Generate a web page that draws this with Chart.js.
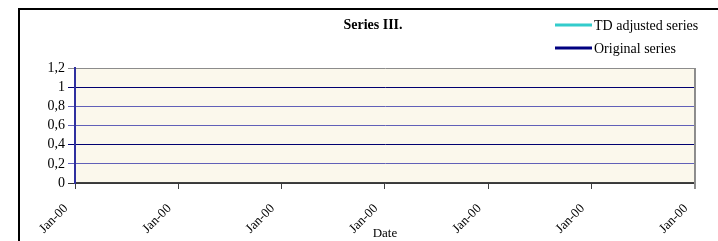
<!DOCTYPE html>
<html>
<head>
<meta charset="utf-8">
<script src="https://cdn.jsdelivr.net/npm/chart.js@4.4.1/dist/chart.umd.min.js"></script>
<style>
    html, body { margin: 0; padding: 0; background: #fff; }
    #wrap { width: 718px; height: 241px; }
</style>
</head>
<body>
<div id="wrap"><canvas id="seriesChart" width="718" height="241"></canvas></div>
<script>
const chartTitle = 'Series III.';
const dates = ['Jan-00', 'Jan-00', 'Jan-00', 'Jan-00', 'Jan-00', 'Jan-00', 'Jan-00'];
const tdAdjusted = [null, null, null, null, null, null, null];
const original = [null, null, null, null, null, null, null];
const yTicks = [0, 0.2, 0.4, 0.6, 0.8, 1, 1.2];

const serif = '"Liberation Serif", "Times New Roman", serif';

// frame, plot background, title and legend
const decorPlugin = {
    id: 'decor',
    beforeDraw(chart) {
        const { ctx, chartArea: a } = chart;
        ctx.save();
        ctx.fillStyle = '#fbf8ec';
        ctx.fillRect(a.left, a.top, a.right - a.left, a.bottom - a.top);
        ctx.restore();
    },
    afterDraw(chart) {
        const { ctx, chartArea: a } = chart;
        ctx.save();
        // outer frame
        ctx.strokeStyle = '#000';
        ctx.lineWidth = 2;
        ctx.beginPath();
        ctx.moveTo(19, 241);
        ctx.lineTo(19, 9);
        ctx.lineTo(718, 9);
        ctx.stroke();

        // plot area border (right side)
        ctx.strokeStyle = '#8c8c8c';
        ctx.lineWidth = 2;
        ctx.beginPath();
        ctx.moveTo(a.right, a.top);
        ctx.lineTo(a.right, a.bottom + 6);
        ctx.stroke();

        // title
        ctx.fillStyle = '#000';
        ctx.font = 'bold 14px ' + serif;
        ctx.textAlign = 'center';
        ctx.textBaseline = 'middle';
        ctx.fillText(chartTitle, 373, 25);

        // legend
        ctx.font = '14px ' + serif;
        ctx.textAlign = 'left';
        chart.data.datasets.forEach((ds, i) => {
            const y = 25 + i * 23;
            ctx.strokeStyle = ds.borderColor;
            ctx.lineWidth = 3;
            ctx.beginPath();
            ctx.moveTo(555, y);
            ctx.lineTo(592, y);
            ctx.stroke();
            ctx.fillStyle = '#000';
            ctx.fillText(ds.label, 594, y + 1);
        });
        ctx.restore();
    }
};

const gridColors = ['#303030', '#6060b8', '#000070', '#6060b8', '#6060b8', '#000070', '#8c8c8c'];

new Chart(document.getElementById('seriesChart'), {
    type: 'line',
    data: {
        labels: dates,
        datasets: [
            { label: 'TD adjusted series', data: tdAdjusted, borderColor: '#33cccc', borderWidth: 2, pointRadius: 0 },
            { label: 'Original series', data: original, borderColor: '#000080', borderWidth: 2, pointRadius: 0 }
        ]
    },
    options: {
        responsive: false,
        animation: false,
        layout: { padding: { top: 68, right: 22, left: 0, bottom: 0 } },
        plugins: {
            legend: { display: false },
            title: { display: false },
            tooltip: { enabled: false }
        },
        scales: {
            x: {
                offset: false,
                grid: { drawOnChartArea: false, drawTicks: true, tickLength: 6, color: '#404040' },
                border: { color: '#404040', width: 1.5 },
                ticks: {
                    maxRotation: 45, minRotation: 45, autoSkip: false,
                    color: '#000', font: { family: serif, size: 13 },
                    padding: 12, labelOffset: -9
                },
                title: {
                    display: true, text: 'Date', color: '#000',
                    font: { family: serif, size: 13 }, padding: { top: 0, bottom: 0 }
                },
                afterFit: s => { s.height = 58; }
            },
            y: {
                min: 0, max: 1.2,
                afterBuildTicks: s => { s.ticks = yTicks.map(v => ({ value: v })); },
                grid: {
                    color: c => gridColors[c.index] || '#6060b8',
                    lineWidth: 1,
                    tickLength: 7
                },
                border: { color: '#3030a0', width: 2 },
                ticks: {
                    autoSkip: false,
                    color: '#000', font: { family: serif, size: 14, lineHeight: 1 }, padding: 3,
                    callback: v => Number(v.toFixed(1)).toString().replace('.', ',')
                },
                afterFit: s => { s.width = 75; }
            }
        }
    },
    plugins: [decorPlugin]
});
</script>
</body>
</html>
